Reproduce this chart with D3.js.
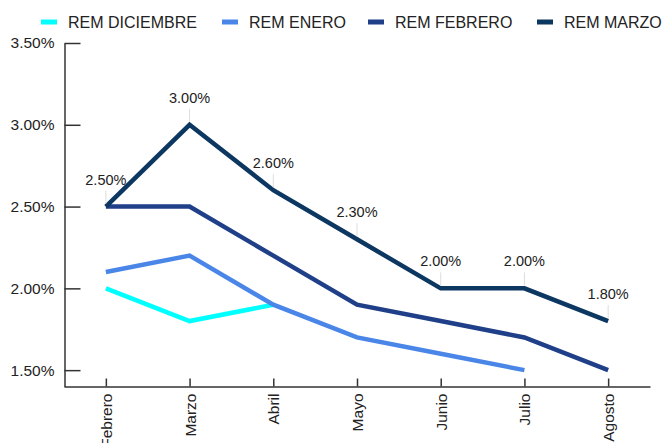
<!DOCTYPE html>
<html>
<head>
<meta charset="utf-8">
<script src="https://cdn.jsdelivr.net/npm/d3@7"></script>
<style>
	body { margin: 0; background: #fff; }
	svg text { font-family: 'Liberation Sans', Arial, sans-serif; fill: #222; }
</style>
</head>
<body>
<div id="chart"></div>
<script>
var months = ['Febrero', 'Marzo', 'Abril', 'Mayo', 'Junio', 'Julio', 'Agosto'];
var seriesNames = ['REM DICIEMBRE', 'REM ENERO', 'REM FEBRERO', 'REM MARZO'];
var seriesColors = ['#00ffff', '#4a86e8', '#1f3f88', '#0c3761'];
var remDiciembre = [2.0, 1.8, 1.9];
var remEnero = [2.1, 2.2, 1.9, 1.7, 1.6, 1.5];
var remFebrero = [2.5, 2.5, 2.2, 1.9, 1.8, 1.7, 1.5];
var remMarzo = [2.5, 3.0, 2.6, 2.3, 2.0, 2.0, 1.8];
var yTicks = [1.5, 2.0, 2.5, 3.0, 3.5];

var width = 664;
var height = 443;
var seriesValues = [remDiciembre, remEnero, remFebrero, remMarzo];

var svg = d3.select('#chart')
	.append('svg')
	.attr('width', width)
	.attr('height', height);

var xScale = d3.scalePoint()
	.domain(months)
	.range([64, 650])
	.padding(0.5);

var yScale = d3.scaleLinear()
	.domain([1.4, 3.5])
	.range([386.5, 43]);

var fmt = function(d) {
	return d3.format('.2f')(d) + '%';
};

// y axis, ticks point inward
var yAxis = svg.append('g')
	.attr('transform', 'translate(64.5,0)')
	.call(d3.axisLeft(yScale)
		.tickValues(yTicks)
		.tickFormat(fmt)
		.tickSizeInner(-16)
		.tickSizeOuter(0)
		.tickPadding(10));
yAxis.select('.domain').attr('stroke', '#333').attr('stroke-width', 1.5);
yAxis.selectAll('.tick line').attr('stroke', '#333').attr('stroke-width', 1.5);
yAxis.selectAll('.tick text')
	.style('font-size', '15.5px')
	.attr('fill', '#222');

// x axis
var xAxis = svg.append('g')
	.attr('transform', 'translate(0,' + yScale(1.4) + ')')
	.call(d3.axisBottom(xScale)
		.tickSizeInner(-8)
		.tickSizeOuter(0));
xAxis.select('.domain').attr('stroke', '#333').attr('stroke-width', 1.5);
xAxis.selectAll('.tick line').attr('stroke', '#333').attr('stroke-width', 1.5);
xAxis.selectAll('.tick text')
	.style('font-size', '15.5px')
	.attr('fill', '#222')
	.attr('text-anchor', 'end')
	.attr('dy', null)
	.attr('transform', 'translate(5.5,7) rotate(-90)')
	.attr('x', 0)
	.attr('y', 0);

// lines
var line = d3.line()
	.x(function(d, i) { return xScale(months[i]); })
	.y(function(d) { return yScale(d); });

svg.append('g').selectAll('path')
	.data(seriesValues)
	.enter()
	.append('path')
	.attr('d', line)
	.attr('fill', 'none')
	.attr('stroke', function(d, i) { return seriesColors[i]; })
	.attr('stroke-width', 4.5)
	.attr('stroke-linejoin', 'miter');

// data labels for REM MARZO
var labels = svg.append('g').selectAll('g')
	.data(remMarzo)
	.enter()
	.append('g')
	.attr('transform', function(d, i) {
		return 'translate(' + xScale(months[i]) + ',' + yScale(d) + ')';
	});

labels.append('line')
	.attr('x1', 0)
	.attr('x2', 0)
	.attr('y1', -16)
	.attr('y2', -3)
	.attr('stroke', '#ddd')
	.attr('stroke-width', 1);

labels.append('text')
	.attr('x', 0)
	.attr('y', -22)
	.attr('text-anchor', 'middle')
	.style('font-size', '14.5px')
	.attr('fill', '#222')
	.text(function(d) { return fmt(d); });

// legend
var legendX = [41, 222, 368, 537];
var legend = svg.append('g').selectAll('g')
	.data(seriesNames)
	.enter()
	.append('g')
	.attr('transform', function(d, i) {
		return 'translate(' + legendX[i] + ',0)';
	});

legend.append('rect')
	.attr('x', 0)
	.attr('y', 19.5)
	.attr('width', 16)
	.attr('height', 5)
	.attr('fill', function(d, i) { return seriesColors[i]; });

legend.append('text')
	.attr('x', 27)
	.attr('y', 28)
	.style('font-size', '16px')
	.attr('fill', '#222')
	.text(function(d) { return d; });
</script>
</body>
</html>
